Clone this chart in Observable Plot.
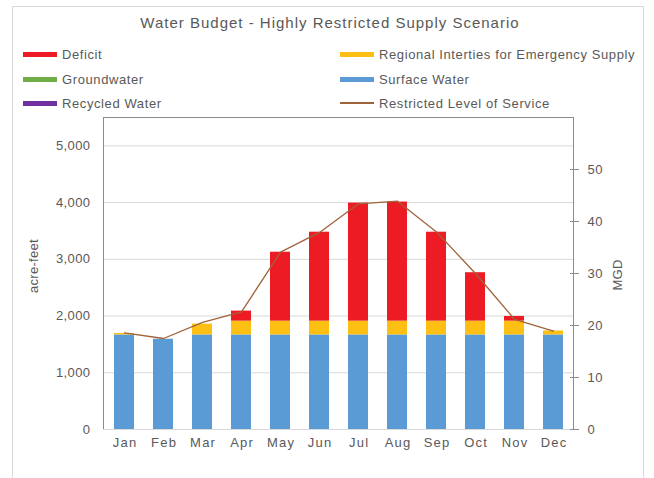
<!DOCTYPE html>
<html>
<head>
<meta charset="utf-8">
<script src="https://cdn.jsdelivr.net/npm/d3@7"></script>
<script src="https://cdn.jsdelivr.net/npm/@observablehq/plot@0.6"></script>
<style>
  body { margin: 0; background: #fff; font-family: "Liberation Sans", Arial, sans-serif; }
  #wrap { position: relative; width: 654px; height: 478px; overflow: hidden; background: #fff; }
  #border { position: absolute; left: 12px; top: 6px; width: 632px; height: 490px; border: 1px solid #d9d9d9; box-sizing: border-box; }
  #title { position: absolute; left: 0; width: 660px; top: 14px; text-align: center; font-size: 15px; line-height: 18px; color: #595959; letter-spacing: 1px; }
  .leg { position: absolute; display: flex; align-items: center; height: 16px; font-size: 13px; color: #595959; white-space: nowrap; letter-spacing: 0.6px; }
  .sw { width: 34px; height: 5px; margin-right: 5px; flex: none; }
  .swl { width: 34px; height: 1.5px; margin-right: 5px; flex: none; }
  .axlab { position: absolute; font-size: 13px; color: #595959; white-space: nowrap; transform-origin: center center; letter-spacing: 0.3px; }
  #chart { position: absolute; left: 0; top: 0; }
</style>
</head>
<body>
<div id="wrap">
  <div id="border"></div>
  <div id="chart"></div>
  <div id="title">Water Budget - Highly Restricted Supply Scenario</div>
  <div id="legend"></div>
  <div class="axlab" id="ylab" style="left:33px; top:266px; transform: translate(-50%,-50%) rotate(-90deg);">acre-feet</div>
  <div class="axlab" id="y2lab" style="left:617px; top:275px; transform: translate(-50%,-50%) rotate(-90deg);">MGD</div>
</div>
<script>
// ---- Data ----
const months = ["Jan","Feb","Mar","Apr","May","Jun","Jul","Aug","Sep","Oct","Nov","Dec"];
const surfaceWater = [1667,1591,1667,1667,1667,1667,1667,1667,1667,1667,1667,1667];
const groundwater  = [0,0,0,0,0,0,0,0,0,0,0,0];
const recycledWater = [0,0,0,0,0,0,0,0,0,0,0,0];
const regionalInterties = [25,0,190,243,243,243,243,243,243,243,243,70];
const deficit = [0,0,0,177,1215,1568,2081,2099,1568,854,83,0];
const restrictedLevelMGD = [18.6,17.5,20.6,22.6,34.1,37.9,43.4,43.9,38.0,30.0,21.2,18.9];
const leftTicks = [0,1000,2000,3000,4000,5000];
const rightTicksMGD = [0,10,20,30,40,50];
const leftMax = 5500;
const rightMax = 60;

const seriesNames = ["Deficit","Regional Interties for Emergency Supply","Groundwater","Surface Water","Recycled Water"];
const seriesColors = ["#ed1c24","#fdbf12","#70ad47","#5b9bd5","#7030a0"];
const lineName = "Restricted Level of Service";
const lineColor = "#a0633a";

// ---- Build tables ----
const stackOrder = ["Surface Water","Groundwater","Recycled Water","Regional Interties for Emergency Supply","Deficit"];
const valuesBySeries = {
  "Surface Water": surfaceWater,
  "Groundwater": groundwater,
  "Recycled Water": recycledWater,
  "Regional Interties for Emergency Supply": regionalInterties,
  "Deficit": deficit
};
const rows = [];
for (const s of stackOrder) {
  months.forEach((m, i) => rows.push({month: m, series: s, value: valuesBySeries[s][i]}));
}
const afPerMgd = leftMax / rightMax;
const lineRows = months.map((m, i) => ({month: m, mgd: restrictedLevelMGD[i]}));

// ---- Legend (HTML) ----
const legend = document.getElementById("legend");
const legendPos = [
  {name: "Deficit", x: 23, y: 46},
  {name: "Regional Interties for Emergency Supply", x: 340, y: 46},
  {name: "Groundwater", x: 23, y: 71},
  {name: "Surface Water", x: 340, y: 71},
  {name: "Recycled Water", x: 23, y: 95},
  {name: lineName, x: 340, y: 95, line: true}
];
for (const p of legendPos) {
  const d = document.createElement("div");
  d.className = "leg";
  d.style.left = p.x + "px";
  d.style.top = p.y + "px";
  const sw = document.createElement("span");
  sw.className = p.line ? "swl" : "sw";
  sw.style.background = p.line ? lineColor : seriesColors[seriesNames.indexOf(p.name)];
  d.appendChild(sw);
  const t = document.createElement("span");
  t.textContent = p.name;
  d.appendChild(t);
  legend.appendChild(d);
}

// ---- Chart ----
const chart = Plot.plot({
  width: 654,
  height: 478,
  marginTop: 117,
  marginBottom: 49,
  marginLeft: 103,
  marginRight: 81,
  style: {fontFamily: "'Liberation Sans', Arial, sans-serif", fontSize: "13px", color: "#595959", background: "transparent"},
  x: {type: "band", domain: months, paddingInner: 0.5, paddingOuter: 0.25, label: null},
  y: {domain: [0, leftMax], label: null},
  color: {domain: seriesNames, range: seriesColors},
  marks: [
    Plot.gridY({ticks: leftTicks.filter(t => t > 0), stroke: "#d9d9d9", strokeOpacity: 1}),
    Plot.barY(rows.filter(d => d.value > 0), {x: "month", y: "value", fill: "series", order: stackOrder}),
    Plot.line(lineRows, {x: "month", y: d => d.mgd * afPerMgd, stroke: lineColor, strokeWidth: 1.3}),
    Plot.frame({stroke: "#8c8c8c"}),
    Plot.ruleY([0], {stroke: "#d9d9d9"}),
    Plot.axisY({anchor: "left", ticks: leftTicks, tickSize: 0, tickPadding: 13, tickFormat: d3.format(","), fontSize: 13}),
    Plot.axisY({anchor: "right", ticks: rightTicksMGD.map(v => v * afPerMgd), tickSize: 5, tickPadding: 9,
                tickFormat: d => String(Math.round(d / afPerMgd)), stroke: "#8c8c8c", fontSize: 13}),
    Plot.axisY({anchor: "right", ticks: rightTicksMGD.map(v => v * afPerMgd), tickSize: -4, tickFormat: () => "", stroke: "#8c8c8c"}),
    Plot.axisX({anchor: "bottom", tickSize: 0, tickPadding: 8, fontSize: 13})
  ]
});
document.getElementById("chart").appendChild(chart);

// Excel-like wider text spacing for tick labels
d3.select(chart).selectAll('g[aria-label="x-axis tick label"] text')
  .attr("letter-spacing", "1.2px").attr("dx", "0.6");
d3.select(chart).selectAll('g[aria-label="y-axis tick label"] text')
  .attr("letter-spacing", "0.4px");
</script>
</body>
</html>
